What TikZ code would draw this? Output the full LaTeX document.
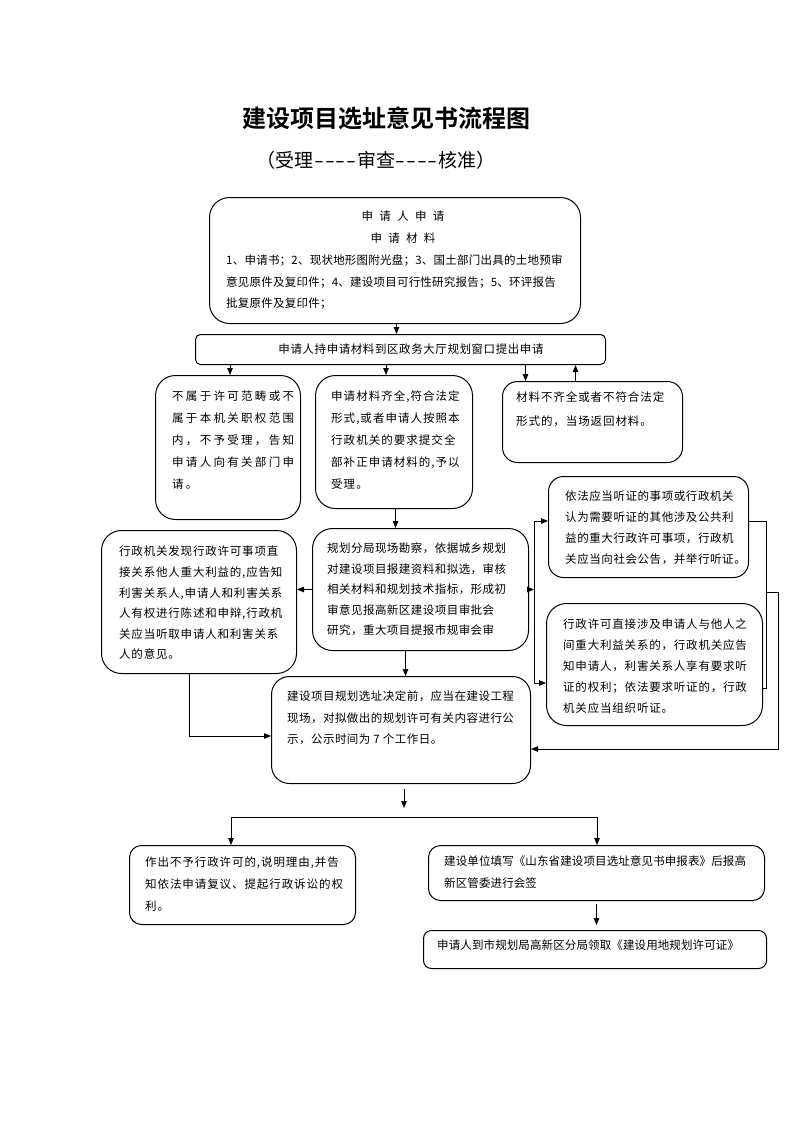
\documentclass[tikz,border=0pt]{standalone}
\usepackage{fontspec}
\setmainfont{Noto Sans CJK SC}[BoldFont={Noto Sans CJK SC Bold}]
\usetikzlibrary{arrows.meta}
\newcommand\txtfont[2]{\fontsize{11.5}{#2}\selectfont\addfontfeature{LetterSpace=#1}}
\newcommand\dd{\makebox[10.8pt]{\scalebox{1.5}[1]{-}}}
\begin{document}
\begin{tikzpicture}[x=1pt,y=-1pt,
  rbox/.style={draw, line width=1pt, anchor=north west, inner sep=0pt},
  txt/.style={anchor=north west, inner sep=0pt, align=left},
  arr/.style={line width=0.8pt, -{Triangle[length=7pt,width=5.5pt]}},
  lin/.style={line width=0.8pt}]
\useasboundingbox (0,0) rectangle (793,1122);
% title
\node[inner sep=0pt, font=\bfseries\fontsize{24}{28}\selectfont] (title) at (386,118) {建设项目选址意见书流程图};
\node[inner sep=0pt, font=\fontsize{19}{22}\selectfont] (sub) at (376,160) {（受理\dd\dd\dd\dd 审查\dd\dd\dd\dd 核准）};
% boxes
\node[rbox, rounded corners=20pt, minimum width=371pt, minimum height=126pt] (top) at (209,197) {};
\node[rbox, rounded corners=5pt, minimum width=410pt, minimum height=30pt] (box2) at (195,334) {};
\node[rbox, rounded corners=20pt, minimum width=145pt, minimum height=144pt] (A) at (155,375) {};
\node[rbox, rounded corners=20pt, minimum width=157pt, minimum height=133pt] (B) at (315,375) {};
\node[rbox, rounded corners=15pt, minimum width=180pt, minimum height=81pt] (C) at (502,381) {};
\node[rbox, rounded corners=15pt, minimum width=200pt, minimum height=101pt] (F) at (548,476) {};
\node[rbox, rounded corners=20pt, minimum width=195pt, minimum height=143pt] (D) at (101,530) {};
\node[rbox, rounded corners=20pt, minimum width=216pt, minimum height=122pt] (E) at (312,528) {};
\node[rbox, rounded corners=20pt, minimum width=216pt, minimum height=122pt] (G) at (546,603) {};
\node[rbox, rounded corners=18pt, minimum width=259pt, minimum height=107pt] (H) at (271,676) {};
\node[rbox, rounded corners=12pt, minimum width=226pt, minimum height=79pt] (I) at (129,845) {};
\node[rbox, rounded corners=12pt, minimum width=336pt, minimum height=55pt] (J) at (428,845) {};
\node[rbox, rounded corners=8pt, minimum width=343pt, minimum height=38pt] (K) at (423,930) {};
% texts
\node[inner sep=0pt, anchor=north, align=center, font=\txtfont{55}{22}] (topH) at (403,211) {申请人申请\\申请材料};
\node[txt, font=\txtfont{2}{21.5}] (topB) at (226,255) {1、申请书；2、现状地形图附光盘；3、国土部门出具的土地预审\\意见原件及复印件；4、建设项目可行性研究报告；5、环评报告\\批复原件及复印件；};
\node[inner sep=0pt, font=\txtfont{5}{14}] (box2t) at (411,349) {申请人持申请材料到区政务大厅规划窗口提出申请};
\node[txt, font=\txtfont{20}{22}] (At) at (172,391) {不属于许可范畴或不\\属于本机关职权范围\\内，不予受理，告知\\申请人向有关部门申\\请。};
\node[txt, font=\txtfont{9}{22}] (Bt) at (331,391) {申请材料齐全,符合法定\\形式,或者申请人按照本\\行政机关的要求提交全\\部补正申请材料的,予以\\受理。};
\node[txt, font=\txtfont{8}{24}] (Ct) at (516,392) {材料不齐全或者不符合法定\\形式的，当场返回材料。};
\node[txt, font=\txtfont{7}{20.6}] (Dt) at (119,546) {行政机关发现行政许可事项直\\接关系他人重大利益的,应告知\\利害关系人,申请人和利害关系\\人有权进行陈述和申辩,行政机\\关应当听取申请人和利害关系\\人的意见。};
\node[txt, font=\txtfont{4}{20.5}] (Et) at (327,543) {规划分局现场勘察，依据城乡规划\\对建设项目报建资料和拟选，审核\\相关材料和规划技术指标，形成初\\审意见报高新区建设项目审批会\\研究，重大项目提报市规审会审};
\node[txt, font=\txtfont{5}{21}] (Ft) at (565,491) {依法应当听证的事项或行政机关\\认为需要听证的其他涉及公共利\\益的重大行政许可事项，行政机\\关应当向社会公告，并举行听证。};
\node[txt, font=\txtfont{7}{21}] (Gt) at (563,619) {行政许可直接涉及申请人与他人之\\间重大利益关系的，行政机关应告\\知申请人，利害关系人享有要求听\\证的权利；依法要求听证的，行政\\机关应当组织听证。};
\node[txt, font=\txtfont{4}{21.5}] (Ht) at (287,691) {建设项目规划选址决定前，应当在建设工程\\现场，对拟做出的规划许可有关内容进行公\\示，公示时间为 7 个工作日。};
\node[txt, font=\txtfont{8}{22}] (It) at (145,857) {作出不予行政许可的,说明理由,并告\\知依法申请复议、提起行政诉讼的权\\利。};
\node[txt, font=\txtfont{1}{22}] (Jt) at (444,856) {建设单位填写《山东省建设项目选址意见书申报表》后报高\\新区管委进行会签};
\node[txt, font=\txtfont{1}{14}] (Kt) at (437,940) {申请人到市规划局高新区分局领取《建设用地规划许可证》};
% connectors
\draw[arr] ([xshift=1.5pt]top.south) -- ([xshift=1.5pt]top.south |- box2.north);
\draw[arr] ([xshift=2pt]A.north |- box2.south) -- ([xshift=2pt]A.north);
\draw[arr] ([xshift=-8pt]B.north |- box2.south) -- ([xshift=-8pt]B.north);
\draw[arr] ([xshift=-67pt]C.north |- box2.south) -- ([xshift=-67pt]C.north);
\draw[arr] ([xshift=-17pt]C.north) -- ([xshift=-17pt]C.north |- box2.south);
\draw[arr] ([xshift=1.5pt]B.south) -- ([xshift=1.5pt]B.south |- E.north);
\draw[arr] (E.west) -- (E.west -| D.east);
\coordinate (jl1) at (534,521);
\coordinate (jl2) at (534,683);
\draw[arr] (E.east) -- (E.east -| jl1);
\draw[lin] (jl1) -- (jl2);
\draw[arr] (jl1) -- (jl1 -| F.west);
\draw[arr] (jl2) -- (jl2 -| G.west);
\coordinate (jr1) at (766,521);
\coordinate (jr2) at (766,688);
\coordinate (jr3) at (766,592);
\coordinate (jr4) at (778,592);
\coordinate (jr5) at (778,749);
\draw[lin] (jr1 -| F.east) -- (jr1) -- (jr2) -- (jr2 -| G.east);
\draw[arr] (jr3) -- (jr4) -- (jr5) -- (jr5 -| H.east);
\coordinate (dl) at (189,736);
\draw[arr] (D.south -| dl) -- (dl) -- (dl -| H.west);
\draw[arr] ([xshift=-15pt]E.south) -- ([xshift=-15pt]E.south |- H.north);
\coordinate (hb1) at (404,789);
\coordinate (hb2) at (404,808);
\draw[arr] (hb1) -- (hb2);
\coordinate (bl) at (231,817);
\coordinate (br) at (597,817);
\draw[lin] (bl) -- (br);
\draw[arr] (bl) -- (bl |- I.north);
\draw[arr] (br) -- (br |- J.north);
\draw[arr] ([yshift=-3pt]J.south) -- ([yshift=5pt]K.north -| J.south);
\end{tikzpicture}
\end{document}
